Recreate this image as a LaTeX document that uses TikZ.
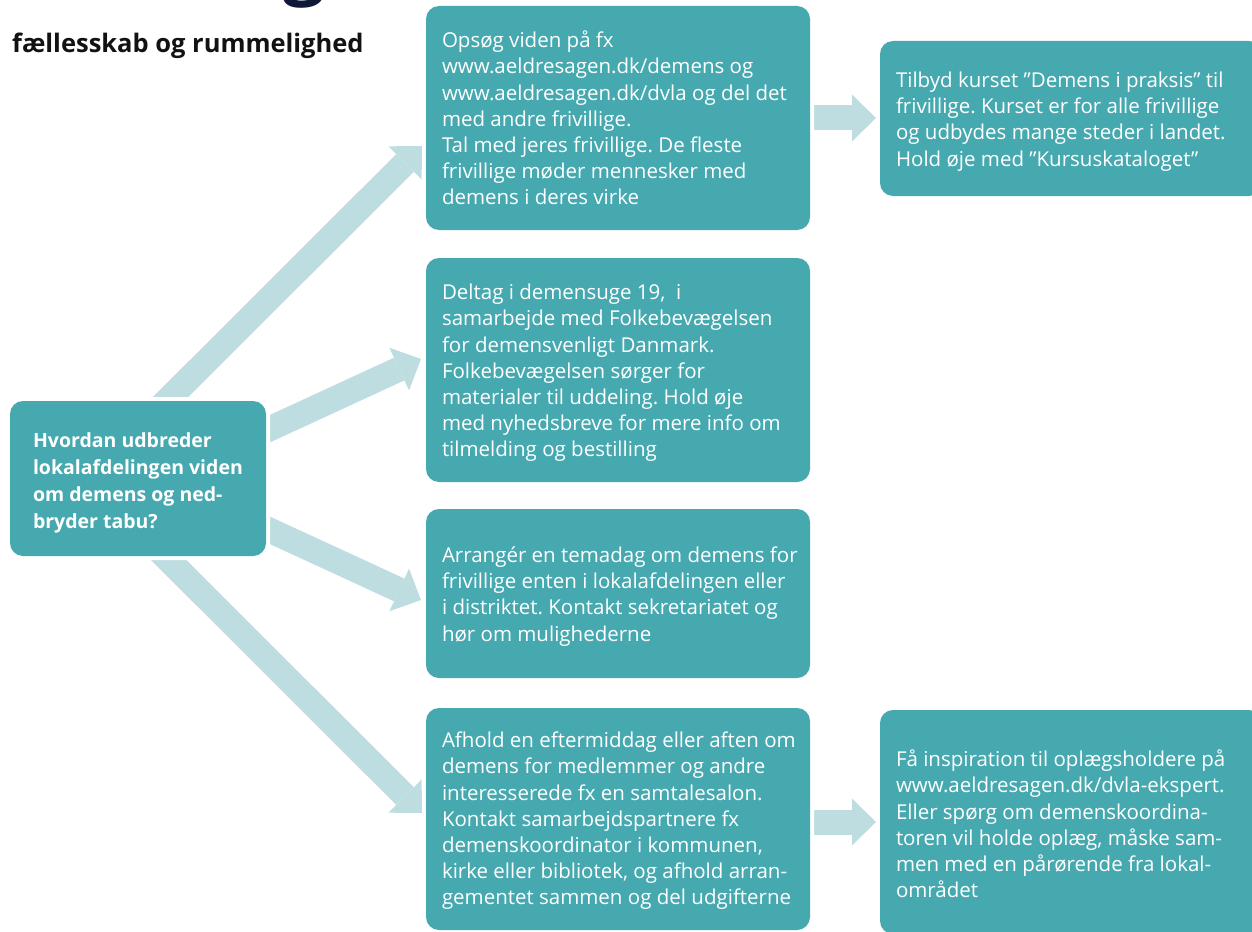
\documentclass[tikz,border=0pt]{standalone}
\usepackage{fontspec}
\setmainfont{Open Sans}
\usetikzlibrary{arrows.meta,calc,backgrounds}
\definecolor{boxteal}{HTML}{46A9B0}
\definecolor{arrowpale}{HTML}{BEDDE0}
\definecolor{titlenavy}{HTML}{0E1838}
\definecolor{titleink}{HTML}{121212}
\frenchspacing
\begin{document}
\begin{tikzpicture}[x=1pt,y=-1pt,
  card/.style={fill=boxteal, rounded corners=13pt, inner sep=0pt,
    preaction={draw=white, line width=8pt}},
  cardtext/.style={anchor=west, inner sep=0pt, align=left, text=white,
    font=\fontsize{20.5}{26.2}\selectfont},
  questiontext/.style={cardtext, font=\bfseries\fontsize{19.5}{27}\selectfont},
  fat/.style={draw=arrowpale, line width=25pt,
    -{Triangle[length=24pt, width=47pt, line width=0pt]}}
]
\useasboundingbox (0,0) rectangle (1252,931);
\clip (0,0) rectangle (1252,931);

% headline fragments
\node[anchor=base west, inner sep=0pt, text=titlenavy,
  font=\bfseries\fontsize{74}{80}\selectfont] (bigg) at (283,-9) {g};
\node[anchor=base west, inner sep=0pt, text=titleink,
  font=\bfseries\fontsize{25.5}{28}\selectfont] (title) at (12,53) {fællesskab og rummelighed};

% boxes
\node[card, minimum width=256pt, minimum height=155pt] (main) at (138,478.5) {};
\node[card, minimum width=384pt, minimum height=224pt] (b1) at (618,118) {};
\node[card, minimum width=384pt, minimum height=224pt] (b2) at (618,370) {};
\node[card, minimum width=384pt, minimum height=169pt] (b3) at (618,593.5) {};
\node[card, minimum width=384pt, minimum height=222pt] (b4) at (618,819) {};
\node[card, minimum width=382pt, minimum height=155pt] (r1) at (1071,118.5) {};
\node[card, minimum width=382pt, minimum height=224pt] (r2) at (1071,822) {};

% texts in the boxes
\node[questiontext] (maintext) at ($(main.west)+(23,4)$)
  {Hvordan udbreder\\lokalafdelingen viden\\om demens og ned-\\bryder tabu?};
\node[cardtext] (b1text) at ($(b1.west)+(16,0)$)
  {Opsøg viden på fx\\www.aeldresagen.dk/demens og\\www.aeldresagen.dk/dvla og del det\\med andre frivillige.\\Tal med jeres frivillige. De fleste\\frivillige møder mennesker med\\demens i deres virke};
\node[cardtext] (b2text) at ($(b2.west)+(16,3)$)
  {Deltag i demensuge 19, \ i\\samarbejde med Folkebevægelsen\\for demensvenligt Danmark.\\Folkebevægelsen sørger for\\materialer til uddeling. Hold øje\\med nyhedsbreve for mere info om\\tilmelding og bestilling};
\node[cardtext] (b3text) at ($(b3.west)+(16,3)$)
  {Arrangér en temadag om demens for\\frivillige enten i lokalafdelingen eller\\i distriktet. Kontakt sekretariatet og\\hør om mulighederne};
\node[cardtext] (b4text) at ($(b4.west)+(16,2)$)
  {Afhold en eftermiddag eller aften om\\demens for medlemmer og andre\\interesserede fx en samtalesalon.\\Kontakt samarbejdspartnere fx\\demenskoordinator i kommunen,\\kirke eller bibliotek, og afhold arran-\\gementet sammen og del udgifterne};
\node[cardtext] (r1text) at ($(r1.west)+(16,3)$)
  {Tilbyd kurset ”Demens i praksis” til\\frivillige. Kurset er for alle frivillige\\og udbydes mange steder i landet.\\Hold øje med ”Kursuskataloget”};
\node[cardtext] (r2text) at ($(r2.west)+(16,2)$)
  {Få inspiration til oplægsholdere på\\www.aeldresagen.dk/dvla-ekspert.\\Eller spørg om demenskoordina-\\toren vil holde oplæg, måske sam-\\men med en pårørende fra lokal-\\området};

% arrow ends
\coordinate (s1) at ($(main.north west)+(140,17)$);
\coordinate (s2) at ($(main.north east)+(-16,37)$);
\coordinate (s3) at ($(main.south east)+(-16,-35)$);
\coordinate (s4) at ($(main.south west)+(140,-15)$);
\coordinate (t1) at (422,146);
\coordinate (t2) at (421,359);
\coordinate (t3) at (421,600);
\coordinate (t4) at (422,813);
\coordinate (s5) at ($(b1.east)+(-10,0)$);
\coordinate (t5) at (876,118);
\coordinate (s6) at ($(b4.east)+(-10,3)$);
\coordinate (t6) at (876,822);

\begin{pgfonlayer}{background}
  \draw[fat] (s1) -- (t1);
  \draw[fat] (s2) -- (t2);
  \draw[fat] (s3) -- (t3);
  \draw[fat] (s4) -- (t4);
  \draw[fat] (s5) -- (t5);
  \draw[fat] (s6) -- (t6);
\end{pgfonlayer}
\end{tikzpicture}
\end{document}
